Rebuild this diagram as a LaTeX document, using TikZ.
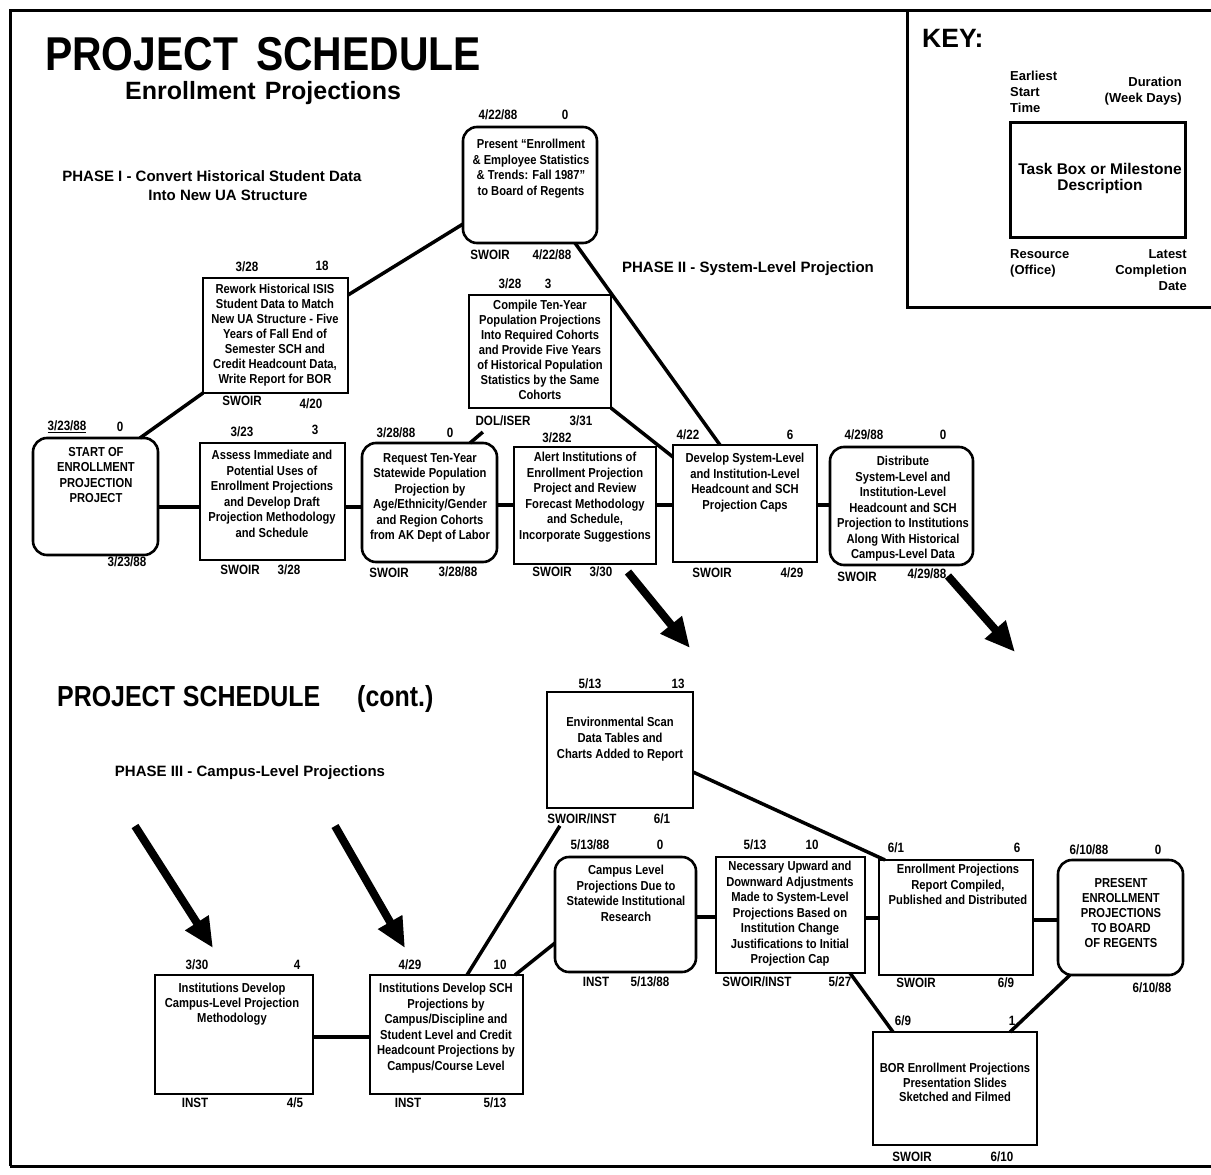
\documentclass[tikz,border=0pt]{standalone}
\usepackage{fontspec}
\setmainfont{Liberation Sans}
\newfontfamily\cnd[FakeStretch=0.86]{Liberation Sans}
\usetikzlibrary{fit,arrows.meta}
\begin{document}
\begin{tikzpicture}[x=1pt,y=-1pt,
  sq/.style={draw, line width=2.6pt, inner sep=0pt, outer sep=0pt},
  rd/.style={sq, rounded corners=14pt},
  tx/.style={font=\cnd\bfseries\fontsize{13}{15.5}\selectfont, align=center, inner sep=0pt, anchor=north},
  txb/.style={font=\cnd\bfseries\fontsize{13}{15}\selectfont, align=center, inner sep=0pt, anchor=north},
  lab/.style={font=\cnd\bfseries\fontsize{13.5}{14}\selectfont, inner sep=0pt},
  ln/.style={line width=3.5pt},
  big/.style={line width=8pt, -{Triangle[length=30pt,width=26pt]}},
  frame/.style={line width=3pt},
  ph/.style={font=\bfseries\fontsize{15}{17}\selectfont, inner sep=0pt},
  ky/.style={font=\bfseries\fontsize{13}{16}\selectfont, inner sep=0pt},
]
\useasboundingbox (0,0) rectangle (1211,1175);
% frame
\draw[frame] (10,1166) -- (10,10) -- (1211,10);
\draw[frame] (10,1166) -- (1211,1166);
\draw[frame] (907,10) -- (907,307) -- (1211,307);

% titles
\node[anchor=base west, inner sep=0pt, font=\cnd\bfseries\fontsize{47.5}{50}\selectfont] (title) at (45,70) {PROJECT\hspace{18pt}SCHEDULE};
\node[anchor=base west, inner sep=0pt, font=\bfseries\fontsize{25}{28}\selectfont] (sub) at (125,99) {Enrollment\hspace{9pt}Projections};
\node[anchor=base west, inner sep=0pt, font=\cnd\bfseries\fontsize{29}{30}\selectfont] (title2) at (57,706) {PROJECT\hspace{8pt}SCHEDULE};
\node[anchor=base west, inner sep=0pt, font=\cnd\bfseries\fontsize{29}{30}\selectfont] (cont) at (357,706) {(cont.)};
\node[ph] (ph1a) at (212,176) {PHASE I - Convert Historical Student Data};
\node[ph] (ph1b) at (228,195) {Into New UA Structure};
\node[ph] (ph2) at (748,269) {PHASE II - System-Level Projection};
\node[ph] (ph3) at (250,773) {PHASE III - Campus-Level Projections};

% key
\node[anchor=base west, inner sep=0pt, font=\bfseries\fontsize{26.5}{28}\selectfont] (key) at (922,47) {KEY:};
\node[ky, anchor=north west, align=left] (k-es) at (1010,71) {Earliest\\Start\\Time};
\node[ky, anchor=north east, align=right] (k-du) at (1182,77) {Duration\\(Week Days)};
\node[sq, line width=3pt, fit={(1010,122) (1185,237)}] (kb) {};
\node[font=\bfseries\fontsize{15.5}{16}\selectfont, align=center, inner sep=0pt] (kb-t) at (1100,178) {Task Box or Milestone\\Description};
\node[ky, anchor=north west, align=left] (k-re) at (1010,249) {Resource\\(Office)};
\node[ky, anchor=north east, align=right] (k-lc) at (1187,249) {Latest\\Completion\\Date};

% ---------- top boxes
\node[rd, fit={(33,438) (158,555)}] (st) {};
\node[tx] (st-t) at (96,447) {START OF\\ENROLLMENT\\PROJECTION\\PROJECT};
\node[lab] (st-a) at (67,427) {\underline{3/23/88}};
\node[lab] (st-b) at (120,427) {0};
\node[lab] (st-d) at (127,562) {3/23/88};

\node[sq, fit={(203,278) (348,393)}] (rw) {};
\node[txb] (rw-t) at (275,284) {Rework Historical ISIS\\Student Data to Match\\New UA Structure - Five\\Years of Fall End of\\Semester SCH and\\Credit Headcount Data,\\Write Report for BOR};
\node[lab] (rw-a) at (247,267) {3/28};
\node[lab] (rw-b) at (322,266) {18};
\node[lab] (rw-c) at (242,401) {SWOIR};
\node[lab] (rw-d) at (311,404) {4/20};

\node[sq, fit={(200,443) (345,560)}] (as) {};
\node[tx] (as-t) at (272,450) {Assess Immediate and\\Potential Uses of\\Enrollment Projections\\and Develop Draft\\Projection Methodology\\and Schedule};
\node[lab] (as-a) at (242,432) {3/23};
\node[lab] (as-b) at (315,430) {3};
\node[lab] (as-c) at (240,570) {SWOIR};
\node[lab] (as-d) at (289,570) {3/28};

\node[rd, fit={(362,443) (497,562)}] (rq) {};
\node[tx] (rq-t) at (430,453) {Request Ten-Year\\Statewide Population\\Projection by\\Age/Ethnicity/Gender\\and Region Cohorts\\from AK Dept of Labor};
\node[lab] (rq-a) at (396,433) {3/28/88};
\node[lab] (rq-b) at (450,433) {0};
\node[lab] (rq-c) at (389,573) {SWOIR};
\node[lab] (rq-d) at (458,572) {3/28/88};

\node[sq, fit={(469,295) (611,408)}] (cp) {};
\node[txb] (cp-t) at (540,300) {Compile Ten-Year\\Population Projections\\Into Required Cohorts\\and Provide Five Years\\of Historical Population\\Statistics by the Same\\Cohorts};
\node[lab] (cp-a) at (510,284) {3/28};
\node[lab] (cp-b) at (548,284) {3};
\node[lab] (cp-c) at (503,421) {DOL/ISER};
\node[lab] (cp-d) at (581,421) {3/31};

\node[rd, fit={(463,127) (597,243)}] (pr) {};
\node[tx] (pr-t) at (531,139) {Present “Enrollment\\\& Employee Statistics\\\& Trends: Fall 1987”\\to Board of Regents};
\node[lab] (pr-a) at (498,115) {4/22/88};
\node[lab] (pr-b) at (565,115) {0};
\node[lab] (pr-c) at (490,255) {SWOIR};
\node[lab] (pr-d) at (552,255) {4/22/88};

\node[sq, fit={(514,447) (656,564)}] (al) {};
\node[tx] (al-t) at (585,452) {Alert Institutions of\\Enrollment Projection\\Project and Review\\Forecast Methodology\\and Schedule,\\Incorporate Suggestions};
\node[lab] (al-a) at (557,438) {3/282};
\node[lab] (al-c) at (552,572) {SWOIR};
\node[lab] (al-d) at (601,572) {3/30};

\node[sq, fit={(673,445) (817,562)}] (dv) {};
\node[tx] (dv-t) at (745,453) {Develop System-Level\\and Institution-Level\\Headcount and SCH\\Projection Caps};
\node[lab] (dv-a) at (688,435) {4/22};
\node[lab] (dv-b) at (790,435) {6};
\node[lab] (dv-c) at (712,573) {SWOIR};
\node[lab] (dv-d) at (792,573) {4/29};

\node[rd, fit={(830,447) (973,565)}] (ds) {};
\node[tx] (ds-t) at (903,456) {Distribute\\System-Level and\\Institution-Level\\Headcount and SCH\\Projection to Institutions\\Along With Historical\\Campus-Level Data};
\node[lab] (ds-a) at (864,435) {4/29/88};
\node[lab] (ds-b) at (943,435) {0};
\node[lab] (ds-c) at (857,577) {SWOIR};
\node[lab] (ds-d) at (927,574) {4/29/88};

% ---------- bottom boxes
\node[sq, fit={(547,692) (693,808)}] (en) {};
\node[font=\cnd\bfseries\fontsize{13}{16}\selectfont, align=center, inner sep=0pt, anchor=north] (en-t) at (620,717) {Environmental Scan\\Data Tables and\\Charts Added to Report};
\node[lab] (en-a) at (590,684) {5/13};
\node[lab] (en-b) at (678,684) {13};
\node[lab] (en-c) at (582,819) {SWOIR/INST};
\node[lab] (en-d) at (662,819) {6/1};

\node[rd, fit={(555,857) (696,972)}] (cl) {};
\node[tx] (cl-t) at (626,865) {Campus Level\\Projections Due to\\Statewide Institutional\\Research};
\node[lab] (cl-a) at (590,845) {5/13/88};
\node[lab] (cl-b) at (660,845) {0};
\node[lab] (cl-c) at (596,982) {INST};
\node[lab] (cl-d) at (650,982) {5/13/88};

\node[sq, fit={(716,857) (865,973)}] (nc) {};
\node[tx] (nc-t) at (790,861) {Necessary Upward and\\Downward Adjustments\\Made to System-Level\\Projections Based on\\Institution Change\\Justifications to Initial\\Projection Cap};
\node[lab] (nc-a) at (755,845) {5/13};
\node[lab] (nc-b) at (812,845) {10};
\node[lab] (nc-c) at (757,982) {SWOIR/INST};
\node[lab] (nc-d) at (840,982) {5/27};

\node[sq, fit={(879,860) (1033,975)}] (rp) {};
\node[tx] (rp-t) at (958,864) {Enrollment Projections\\Report Compiled,\\Published and Distributed};
\node[lab] (rp-a) at (896,848) {6/1};
\node[lab] (rp-b) at (1017,848) {6};
\node[lab] (rp-c) at (916,983) {SWOIR};
\node[lab] (rp-d) at (1006,983) {6/9};

\node[rd, fit={(1058,860) (1183,975)}] (pp) {};
\node[txb] (pp-t) at (1121,878) {PRESENT\\ENROLLMENT\\PROJECTIONS\\TO BOARD\\OF REGENTS};
\node[lab] (pp-a) at (1089,850) {6/10/88};
\node[lab] (pp-b) at (1158,850) {0};
\node[lab] (pp-d) at (1152,988) {6/10/88};

\node[sq, fit={(873,1032) (1037,1145)}] (bo) {};
\node[font=\cnd\bfseries\fontsize{13}{14.5}\selectfont, align=center, inner sep=0pt, anchor=north] (bo-t) at (955,1063) {BOR Enrollment Projections\\Presentation Slides\\Sketched and Filmed};
\node[lab] (bo-a) at (903,1021) {6/9};
\node[lab] (bo-b) at (1012,1021) {1};
\node[lab] (bo-c) at (912,1157) {SWOIR};
\node[lab] (bo-d) at (1002,1157) {6/10};

\node[sq, fit={(155,975) (313,1094)}] (i1) {};
\node[txb] (i1-t) at (232,983) {Institutions Develop\\Campus-Level Projection\\Methodology};
\node[lab] (i1-a) at (197,965) {3/30};
\node[lab] (i1-b) at (297,965) {4};
\node[lab] (i1-c) at (195,1103) {INST};
\node[lab] (i1-d) at (295,1103) {4/5};

\node[sq, fit={(370,975) (523,1094)}] (i2) {};
\node[tx] (i2-t) at (446,983) {Institutions Develop SCH\\Projections by\\Campus/Discipline and\\Student Level and Credit\\Headcount Projections by\\Campus/Course Level};
\node[lab] (i2-a) at (410,965) {4/29};
\node[lab] (i2-b) at (500,965) {10};
\node[lab] (i2-c) at (408,1103) {INST};
\node[lab] (i2-d) at (495,1103) {5/13};

% ---------- connectors (top)
\draw[ln] ([xshift=-18pt]st.north east) -- (rw.south west);
\draw[ln] ([yshift=-17pt]rw.north east) -- ([yshift=19pt]pr.south west);
\draw[ln] (st.east |- 0,507) -- (as.west |- 0,507);
\draw[ln] (as.east |- 0,507) -- (rq.west |- 0,507);
\draw[ln] (rq.east |- 0,505) -- (al.west |- 0,505);
\draw[ln, shorten >=37pt] ([xshift=108pt]rq.north west) -- ([xshift=42pt]cp.south west);
\draw[ln] (cp.south east) -- ([yshift=-12pt]dv.north west);
\draw[ln] ([xshift=-22pt]pr.south east) -- ([xshift=47pt]dv.north west);
\draw[ln] (al.east |- 0,505) -- (dv.west |- 0,505);
\draw[ln] (dv.east |- 0,505) -- (ds.west |- 0,505);

% ---------- connectors (bottom)
\draw[ln] (i1.east |- 0,1037) -- (i2.west |- 0,1037);
\draw[ln, shorten >=21pt] ([xshift=97pt]i2.north west) -- ([xshift=24pt]en.south west);
\draw[ln] ([xshift=-8pt]i2.north east) -- ([yshift=29pt]cl.south west);
\draw[ln] (cl.east |- 0,917) -- (nc.west |- 0,917);
\draw[ln] (nc.east |- 0,918) -- (rp.west |- 0,918);
\draw[ln] (rp.east |- 0,920) -- (pp.west |- 0,920);
\draw[ln] ([yshift=36pt]en.south east) -- ([xshift=6pt]rp.north west);
\draw[ln] ([xshift=-15pt]nc.south east) -- ([xshift=20pt]bo.north west);
\draw[ln] ([xshift=12pt]pp.south west) -- ([xshift=-27pt]bo.north east);

% ---------- big arrows
\coordinate (a1s) at (628,572); \coordinate (a1e) at (690,648);
\coordinate (a2s) at (948,576); \coordinate (a2e) at (1015,652);
\coordinate (a3s) at (135,826); \coordinate (a3e) at (213,948);
\coordinate (a4s) at (335,826); \coordinate (a4e) at (405,948);
\draw[big] (a1s) -- (a1e);
\draw[big] (a2s) -- (a2e);
\draw[big] (a3s) -- (a3e);
\draw[big] (a4s) -- (a4e);
\end{tikzpicture}
\end{document}
